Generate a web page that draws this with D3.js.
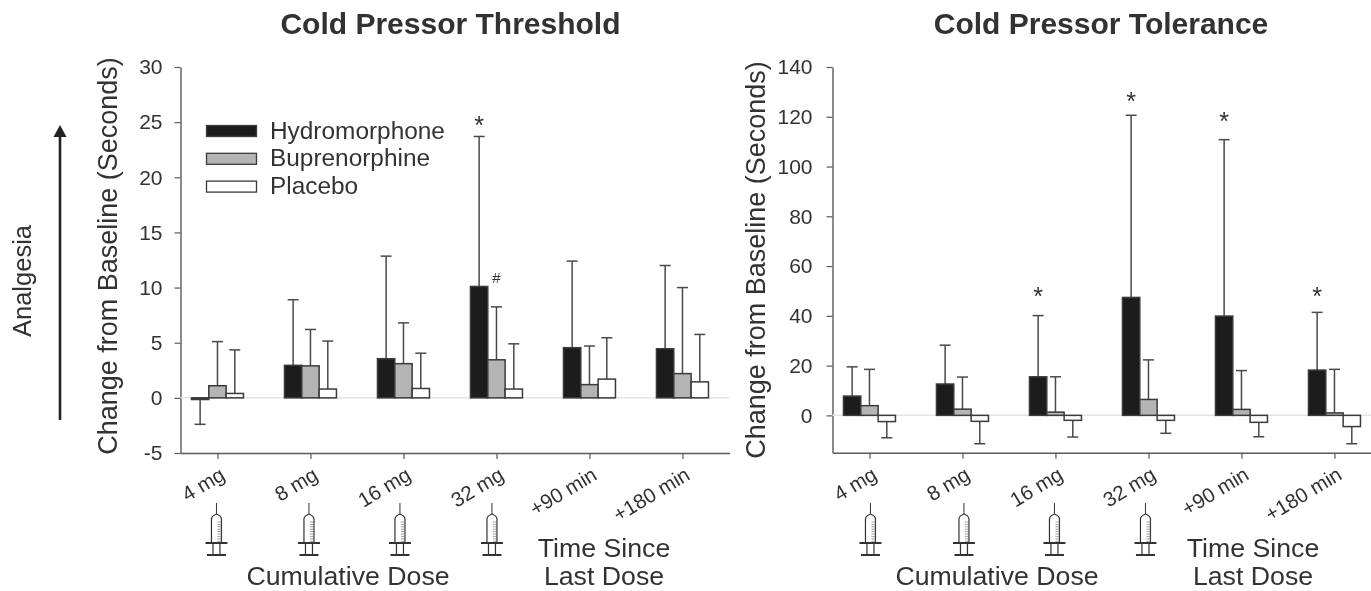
<!DOCTYPE html>
<html>
<head>
<meta charset="utf-8">
<script src="https://cdn.jsdelivr.net/npm/d3@7"></script>
<style>
  html, body { margin: 0; padding: 0; background: #fff; }
  svg { display: block; }
  text { font-family: "Liberation Sans", Arial, sans-serif; fill: #333; }
</style>
</head>
<body>
<div id="chart"></div>
<script>
// categories
const doses = ["4 mg", "8 mg", "16 mg", "32 mg", "+90 min", "+180 min"];
const drugs = ["Hydromorphone", "Buprenorphine", "Placebo"];
const drugColors = ["#1e1e1e", "#b4b4b4", "#ffffff"];

// threshold values: bar height, then end of the error bar
const thresholdHydro = [-0.15, 2.95, 3.55, 10.1, 4.55, 4.45];
const thresholdBup = [1.1, 2.9, 3.1, 3.45, 1.2, 2.2];
const thresholdPlacebo = [0.4, 0.8, 0.85, 0.8, 1.7, 1.45];
const thresholdHydroErr = [-2.4, 8.9, 12.85, 23.7, 12.4, 12.0];
const thresholdBupErr = [5.1, 6.2, 6.8, 8.25, 4.7, 10.0];
const thresholdPlaceboErr = [4.35, 5.15, 4.05, 4.9, 5.45, 5.75];

// tolerance values
const toleranceHydro = [7.75, 12.6, 15.5, 47.4, 39.9, 18.2];
const toleranceBup = [3.9, 2.5, 1.3, 6.4, 2.4, 1.0];
const tolerancePlacebo = [-2.5, -2.4, -2.0, -2.0, -2.8, -4.5];
const toleranceHydroErr = [19.5, 28.2, 40.1, 120.6, 110.8, 41.4];
const toleranceBupErr = [18.5, 15.4, 15.5, 22.3, 18.0, 18.5];
const tolerancePlaceboErr = [-9, -11.4, -8.7, -7.2, -8.6, -11.4];

// significance marks: dose, drug, value the symbol sits at
const thresholdMarkDose = ["32 mg", "32 mg"];
const thresholdMarkDrug = ["Hydromorphone", "Buprenorphine"];
const thresholdMarkValue = [25.2, 10.9];
const thresholdMarkSymbol = ["*", "#"];
const toleranceMarkDose = ["16 mg", "32 mg", "+90 min", "+180 min"];
const toleranceMarkDrug = ["Hydromorphone", "Hydromorphone", "Hydromorphone", "Hydromorphone"];
const toleranceMarkValue = [50.3, 128.6, 120.6, 50.3];
const toleranceMarkSymbol = ["*", "*", "*", "*"];

const thresholdTicks = [-5, 0, 5, 10, 15, 20, 25, 30];
const toleranceTicks = [0, 20, 40, 60, 80, 100, 120, 140];

const svg = d3.select("#chart").append("svg")
    .attr("width", 1371)
    .attr("height", 591);

// the reference is a soft scan, so blur everything a touch
svg.append("defs").append("filter")
    .attr("id", "soft")
    .append("feGaussianBlur")
    .attr("stdDeviation", 0.55);

const root = svg.append("g").attr("filter", "url(#soft)");

const axisColor = "#5a5a5a";

function drawSyringe(g, cx) {
  const s = g.append("g")
      .attr("transform", "translate(" + cx + ",503)")
      .attr("fill", "none")
      .attr("stroke", "#333");
  s.append("line").attr("y1", 0).attr("y2", 11).attr("stroke-width", 1);
  s.append("path")
      .attr("d", "M-5,40V16Q-5,13 0,11Q5,13 5,16V40")
      .attr("fill", "#fff")
      .attr("stroke-width", 1.2);
  d3.range(19, 39, 2.4).forEach(function(t) {
    s.append("line").attr("x1", 1).attr("x2", 5).attr("y1", t).attr("y2", t)
        .attr("stroke-width", 0.7).attr("stroke", "#777");
  });
  s.append("line").attr("x1", -11).attr("x2", 11).attr("y1", 40).attr("y2", 40).attr("stroke-width", 2);
  s.append("line").attr("x1", -3.5).attr("x2", -3.5).attr("y1", 40).attr("y2", 52).attr("stroke-width", 1.2);
  s.append("line").attr("x1", 3.5).attr("x2", 3.5).attr("y1", 40).attr("y2", 52).attr("stroke-width", 1.2);
  s.append("line").attr("x1", -9.5).attr("x2", 9.5).attr("y1", 52).attr("y2", 52).attr("stroke-width", 2);
}

function drawPanel(p) {
  const g = root.append("g");

  const x = d3.scalePoint()
      .domain(doses)
      .range(p.xRange)
      .padding(0.4516)
      .align(0.44);

  const y = d3.scaleLinear()
      .domain(p.yDomain)
      .range(p.yRange);

  const barX = d3.scaleBand()
      .domain(drugs)
      .range([-26, 26]);

  // x axis
  const xAxis = g.append("g")
      .attr("transform", "translate(0," + y(p.yDomain[0]) + ")")
      .call(d3.axisBottom(x).tickSize(6).tickSizeOuter(0));
  xAxis.select(".domain").attr("stroke", axisColor).attr("stroke-width", 1.4);
  xAxis.selectAll(".tick line").attr("stroke", axisColor).attr("stroke-width", 1.2);
  xAxis.selectAll(".tick text")
      .attr("font-size", 20.5)
      .attr("text-anchor", "end")
      .attr("transform", "translate(5,20) rotate(-31)")
      .attr("x", 0)
      .attr("y", 0)
      .attr("dy", "0.32em");

  // y axis, plain hyphen on the negative tick like the original
  const yAxis = g.append("g")
      .attr("transform", "translate(" + p.xRange[0] + ",0)")
      .call(d3.axisLeft(y).tickValues(p.yTicks).tickFormat(String).tickSize(6).tickSizeOuter(0).tickPadding(p.tickPad));
  yAxis.select(".domain").attr("stroke", axisColor).attr("stroke-width", 1.4);
  yAxis.selectAll(".tick line").attr("stroke", axisColor).attr("stroke-width", 1.2);
  yAxis.selectAll(".tick text").attr("font-size", 21);

  // zero line
  g.append("line")
      .attr("x1", p.xRange[0])
      .attr("x2", p.xRange[1])
      .attr("y1", y(0))
      .attr("y2", y(0))
      .attr("stroke", "#e4e4e4")
      .attr("stroke-width", 1.5);

  // error bars first so the bars sit on top of them
  drugs.forEach(function(drug, i) {
    doses.forEach(function(dose, k) {
      const cx = x(dose) + barX(drug) + barX.bandwidth() / 2;
      const end = p.errors[i][k];
      g.append("line")
          .attr("x1", cx).attr("x2", cx)
          .attr("y1", y(p.values[i][k])).attr("y2", y(end))
          .attr("stroke", "#4a4a4a").attr("stroke-width", 1.5);
      g.append("line")
          .attr("x1", cx - 5.5).attr("x2", cx + 5.5)
          .attr("y1", y(end)).attr("y2", y(end))
          .attr("stroke", "#4a4a4a").attr("stroke-width", 1.5);
    });
  });

  // bars
  drugs.forEach(function(drug, i) {
    g.append("g")
      .selectAll("rect")
      .data(doses)
      .enter()
      .append("rect")
        .attr("x", function(d) { return x(d) + barX(drug); })
        .attr("width", barX.bandwidth())
        .attr("y", function(d, k) { return Math.min(y(0), y(p.values[i][k])); })
        .attr("height", function(d, k) { return Math.abs(y(0) - y(p.values[i][k])); })
        .attr("fill", drugColors[i])
        .attr("stroke", "#3a3a3a")
        .attr("stroke-width", 1.5);
  });

  // significance marks
  p.markDose.forEach(function(dose, m) {
    g.append("text")
        .attr("x", x(dose) + barX(p.markDrug[m]) + barX.bandwidth() / 2)
        .attr("y", y(p.markValue[m]))
        .attr("text-anchor", "middle")
        .attr("font-size", p.markSymbol[m] === "#" ? 15 : 25)
        .attr("dy", p.markSymbol[m] === "#" ? "0.35em" : "0.58em")
        .text(p.markSymbol[m]);
  });

  // syringes under the four dose ticks
  doses.slice(0, 4).forEach(function(dose, k) {
    drawSyringe(g, x(dose) + p.syringeShift[k]);
  });

  // titles and labels
  g.append("text")
      .attr("x", p.titleX).attr("y", 34)
      .attr("text-anchor", "middle")
      .attr("font-size", 30)
      .attr("font-weight", "bold")
      .text(p.title);

  g.append("text")
      .attr("transform", "translate(" + p.yTitleX + "," + p.yTitleY + ") rotate(-90)")
      .attr("text-anchor", "middle")
      .attr("font-size", 27)
      .text("Change from Baseline (Seconds)");

  g.append("text")
      .attr("x", p.cumX).attr("y", 585)
      .attr("text-anchor", "middle")
      .attr("font-size", 26.7)
      .text("Cumulative Dose");

  g.append("text")
      .attr("x", p.timeX).attr("y", 557)
      .attr("text-anchor", "middle")
      .attr("font-size", 26.7)
      .text("Time Since");

  g.append("text")
      .attr("x", p.timeX).attr("y", 585)
      .attr("text-anchor", "middle")
      .attr("font-size", 26.7)
      .text("Last Dose");
}

drawPanel({
  title: "Cold Pressor Threshold",
  titleX: 450.5,
  yTitleX: 116.5,
  yTitleY: 256,
  tickPad: 12,
  xRange: [180.5, 729.5],
  yRange: [453, 67],
  yDomain: [-5, 30],
  yTicks: thresholdTicks,
  values: [thresholdHydro, thresholdBup, thresholdPlacebo],
  errors: [thresholdHydroErr, thresholdBupErr, thresholdPlaceboErr],
  markDose: thresholdMarkDose,
  markDrug: thresholdMarkDrug,
  markValue: thresholdMarkValue,
  markSymbol: thresholdMarkSymbol,
  syringeShift: [-1, -1.5, -3.5, -4.5],
  cumX: 348,
  timeX: 604
});

drawPanel({
  title: "Cold Pressor Tolerance",
  titleX: 1101,
  yTitleX: 765,
  yTitleY: 260,
  tickPad: 14,
  xRange: [832.5, 1381.5],
  yRange: [452.7, 67],
  yDomain: [-15, 140],
  yTicks: toleranceTicks,
  values: [toleranceHydro, toleranceBup, tolerancePlacebo],
  errors: [toleranceHydroErr, toleranceBupErr, tolerancePlaceboErr],
  markDose: toleranceMarkDose,
  markDrug: toleranceMarkDrug,
  markValue: toleranceMarkValue,
  markSymbol: toleranceMarkSymbol,
  syringeShift: [1, 1.5, -1, -3],
  cumX: 997,
  timeX: 1253
});

// legend
const legend = root.append("g");
drugs.forEach(function(drug, i) {
  legend.append("rect")
      .attr("x", 206.5)
      .attr("y", 125.5 + i * 27.8)
      .attr("width", 50)
      .attr("height", 11)
      .attr("fill", drugColors[i])
      .attr("stroke", "#3a3a3a")
      .attr("stroke-width", 1.3);
  legend.append("text")
      .attr("x", 270)
      .attr("y", 138.5 + i * 27.75)
      .attr("font-size", 24.4)
      .text(drug);
});

// analgesia arrow
root.append("text")
    .attr("transform", "translate(31,281) rotate(-90)")
    .attr("text-anchor", "middle")
    .attr("font-size", 25.5)
    .text("Analgesia");
root.append("line")
    .attr("x1", 60).attr("x2", 60)
    .attr("y1", 420).attr("y2", 132)
    .attr("stroke", "#222").attr("stroke-width", 2.6);
root.append("path")
    .attr("d", d3.line()([[53.5, 137], [60, 125], [66.5, 137]]) + "Z")
    .attr("fill", "#222");
</script>
</body>
</html>
